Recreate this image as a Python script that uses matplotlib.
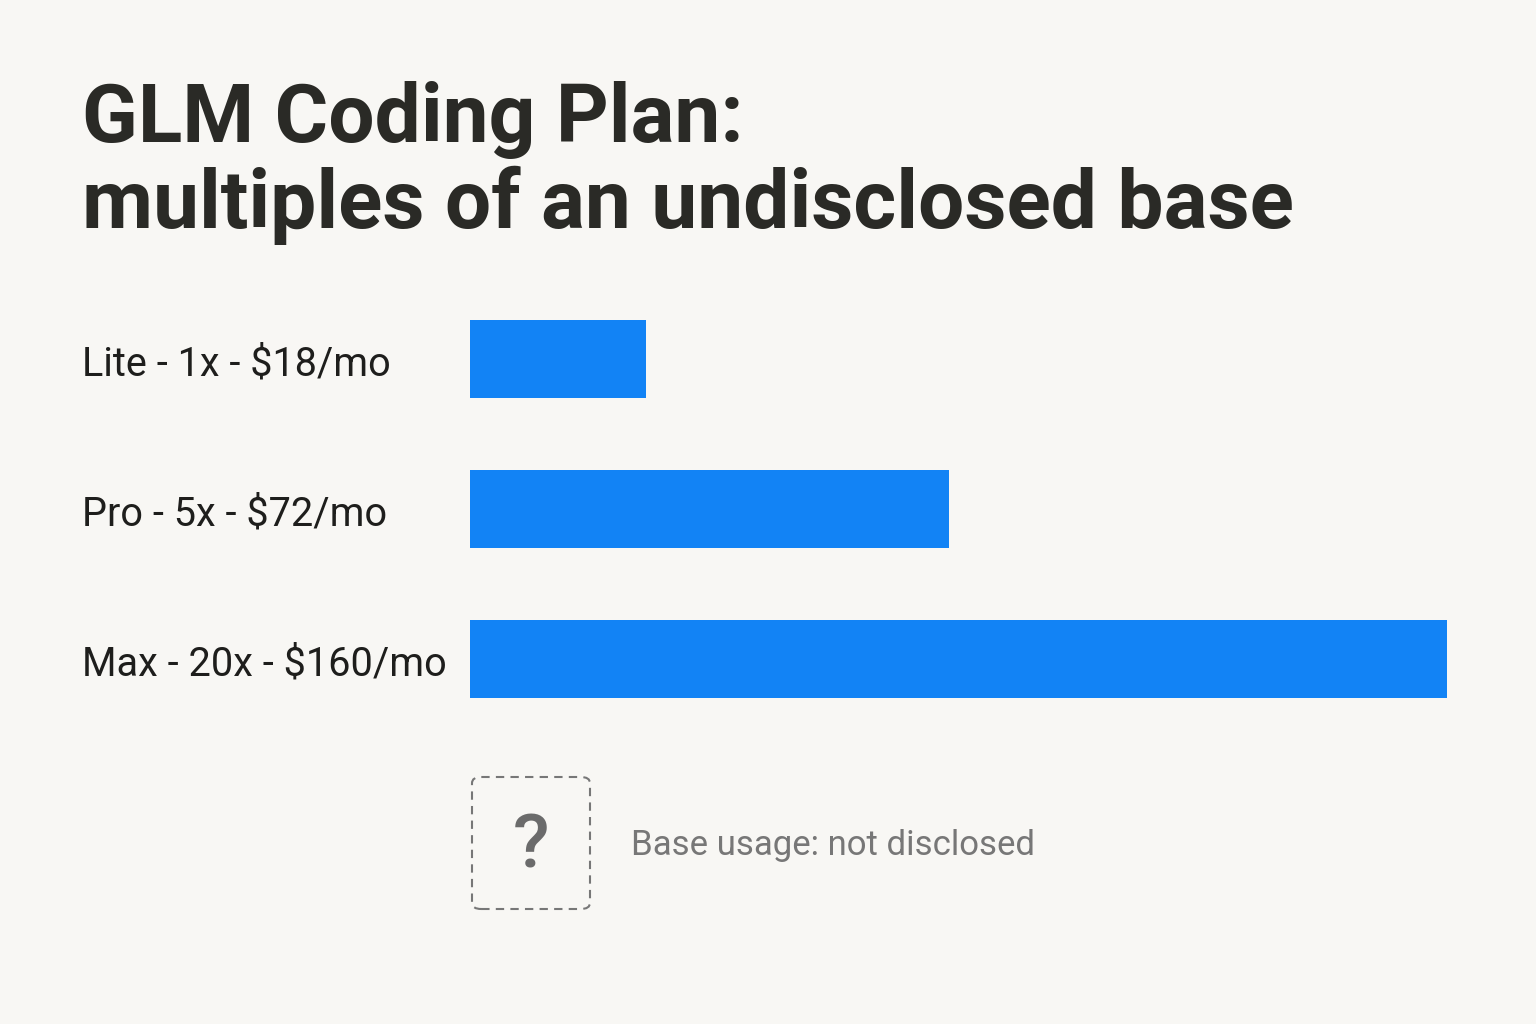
import matplotlib.pyplot as plt
from matplotlib.patches import FancyBboxPatch

plans = ['Lite - 1x - $18/mo', 'Pro - 5x - $72/mo', 'Max - 20x - $160/mo']
bar_lengths = [3.6, 9.8, 20.0]   # Max = 20
title_lines = ['GLM Coding Plan:', 'multiples of an undisclosed base']
base_note = 'Base usage: not disclosed'

bg = '#f8f7f4'
blue = '#1283f5'
W, H = 1536, 1024

plt.rcParams['font.family'] = ['Roboto', 'DejaVu Sans']
fig = plt.figure(figsize=(W / 100, H / 100), dpi=100, facecolor=bg)

# axes for the bars
ax = fig.add_axes([470 / W, 1 - 734 / H, (1447 - 470) / W, 450 / H])
ax.set_facecolor('none')
ax.barh(range(len(plans)), bar_lengths, height=0.52, color=blue)
ax.set_xlim(0, 20)
ax.set_ylim(2.5, -0.5)
ax.axis('off')

# labels on the left
for i, name in enumerate(plans):
    y = ax.transData.transform((0, i))[1]
    fig.text(82 / W, (y - 1) / H, name, fontsize=28.5, color='#1e1e1c',
             ha='left', va='center_baseline')

# title
fig.text(82 / W, 1 - 142 / H, title_lines[0], fontsize=59, fontweight='bold',
         color='#2a2a26', ha='left', va='baseline')
fig.text(82 / W, 1 - 228 / H, title_lines[1], fontsize=59, fontweight='bold',
         color='#2a2a26', ha='left', va='baseline')

# dashed question box
box = FancyBboxPatch((472 / W, 1 - 909 / H), 118 / W, 132 / H,
                     boxstyle='round,pad=0,rounding_size=0.006',
                     transform=fig.transFigure, fill=False,
                     edgecolor='#777777', linewidth=1.5, linestyle=(0, (4, 3)))
fig.add_artist(box)
fig.text(531 / W, 1 - 847 / H, '?', fontsize=54, fontweight='medium',
         color='#6b6b6b', ha='center', va='center')
fig.text(631 / W, 1 - 845 / H, base_note, fontsize=25, color='#777777',
         ha='left', va='center')

fig.savefig('out.png', dpi=100, facecolor=bg)
